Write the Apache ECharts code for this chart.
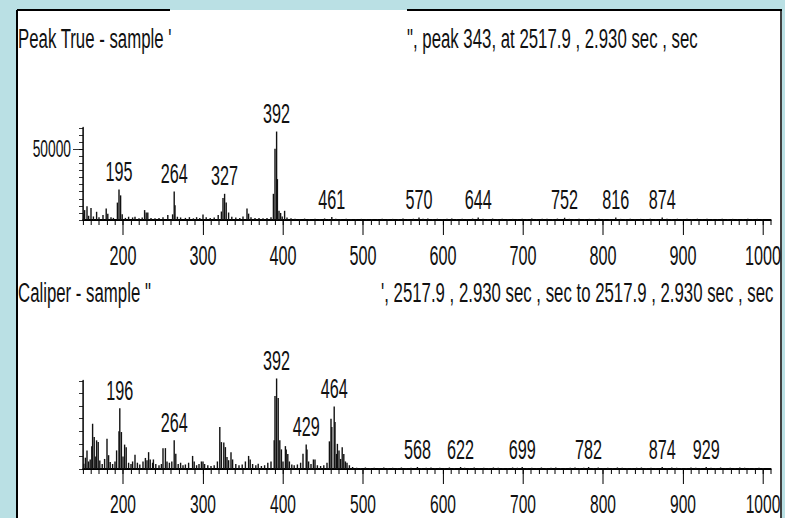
<!DOCTYPE html>
<html>
<head>
<meta charset="utf-8">
<title>Peak True / Caliper</title>
<script src="https://cdn.jsdelivr.net/npm/echarts@6/dist/echarts.min.js"></script>
<style>
  html, body { margin: 0; padding: 0; overflow: hidden; background: #bae0e4; }
  #main { height: 518px; transform-origin: 0 0; }
</style>
</head>
<body>
<div id="main"></div>
<script>
// the original uses a very narrow font, so the chart is laid out wider
// and squeezed back horizontally with css (svg keeps it sharp)
var S = 0.6;
function X(v) { return v / S; }
var FONT = '"Liberation Sans", Arial, sans-serif';

// Peak True spectrum
var trueMz = [151, 152, 155, 157, 160, 163, 167, 170, 175, 179, 181, 185, 188, 193, 195, 197, 199,
  203, 207, 212, 215, 220, 224, 227, 229, 231, 235, 240, 245, 250, 256, 262, 264, 265, 268, 272,
  278, 283, 288, 292, 296, 300, 304, 309, 314, 319, 323, 325, 327, 329, 332, 336, 341, 346, 350,
  355, 357, 360, 365, 370, 375, 380, 385, 388, 390, 392, 393, 395, 397, 399, 402, 405, 410,
  415, 421, 427, 433, 440, 446, 452, 457, 461, 466, 472, 479, 485, 491, 498, 504, 511, 518, 524,
  531, 537, 544, 550, 556, 563, 570, 575, 581, 587, 593, 599, 605, 611, 617, 624, 630, 637, 644,
  650, 656, 662, 668, 674, 681, 687, 693, 699, 705, 711, 717, 724, 730, 737, 743, 752, 758, 764,
  770, 777, 783, 789, 795, 801, 808, 816, 822, 828, 834, 840, 847, 853, 859, 866, 874, 880, 886,
  893, 899, 905, 911, 918, 924, 930, 937, 943, 949, 956, 962, 968, 975, 981, 987, 993, 999];
var trueInt = [4000, 7000, 9700, 3000, 8500, 2500, 5800, 2000, 3500, 8100, 4500, 2000, 1500, 12300, 21500, 17400, 4000,
  1500, 2300, 1800, 2300, 1200, 1800, 7000, 5300, 5300, 1500, 1200, 1500, 2000, 3500, 4000, 20100, 10400, 2300, 1800,
  1500, 2000, 1200, 2000, 1500, 3900, 2000, 1500, 1800, 3500, 6000, 15500, 18500, 12300, 5300, 2300, 1800, 1500, 2500,
  8100, 4500, 2000, 1500, 1500, 1200, 1500, 2000, 18500, 50300, 62500, 28900, 6500, 5000, 2500, 6500, 1800, 1200,
  800, 600, 1000, 700, 900, 600, 1100, 700, 2100, 800, 600, 900, 700, 500, 800, 600, 700, 500, 900,
  600, 800, 700, 1000, 600, 900, 1800, 800, 1100, 700, 900, 600, 800, 1000, 700, 900, 600, 1000, 1800,
  800, 700, 1000, 600, 900, 700, 800, 600, 900, 700, 1000, 600, 800, 900, 700, 1000, 1600, 800, 600,
  900, 700, 800, 600, 900, 700, 600, 1700, 800, 700, 900, 600, 800, 700, 900, 600, 1700, 800, 700,
  900, 600, 800, 700, 900, 600, 800, 700, 600, 900, 700, 800, 600, 700, 900, 600, 800, 700];
var trueLabels = [195, 264, 327, 392, 461, 570, 644, 752, 816, 874];

// Caliper spectrum
var calMz = [151, 153, 155, 157, 159, 161, 162, 164, 166, 167, 169, 171, 174, 177, 180, 182, 184, 187,
  190, 192, 195, 196, 198, 200, 202, 204, 207, 210, 212, 215, 218, 221, 225, 228, 230, 232, 234, 237,
  238, 241, 245, 248, 250, 253, 255, 258, 261, 264, 266, 269, 272, 275, 278, 282, 287, 289, 292, 295,
  298, 300, 302, 306, 310, 314, 318, 321, 323, 326, 328, 330, 332, 335, 337, 341, 345, 349, 353, 357,
  359, 362, 366, 369, 373, 377, 381, 385, 389, 390, 392, 394, 396, 398, 400, 403, 404, 406, 408, 411,
  414, 418, 422, 425, 429, 430, 432, 435, 438, 440, 443, 447, 451, 455, 458, 460, 461, 464, 465, 467,
  468, 470, 472, 474, 476, 478, 480, 483, 487,
  492, 497, 503, 509, 514, 520, 526, 531, 537, 543, 548, 554, 560, 568, 573, 579, 585, 590, 596, 602,
  608, 614, 622, 627, 633, 639, 645, 651, 657, 663, 669, 675, 681, 687, 693, 699, 705, 711, 717, 723,
  729, 735, 741, 747, 753, 759, 765, 771, 776, 782, 788, 794, 800, 806, 812, 818, 824, 830, 836, 842,
  848, 854, 860, 866, 874, 880, 886, 892, 898, 904, 910, 916, 922, 929, 935, 941, 947, 953, 959, 965,
  971, 977, 983, 989, 995, 1000];
var calInt = [2100, 4500, 7400, 3000, 3800, 9000, 18000, 12700, 5000, 11400, 10700, 3400, 2000, 4000, 12000, 5500, 2800, 2000,
  3000, 7400, 15000, 24200, 14700, 5000, 9700, 8700, 2500, 2000, 3000, 5700, 2500, 1800, 3000, 4400, 3500, 6700, 3800, 2500,
  3800, 2000, 1500, 2000, 8300, 8300, 3000, 2500, 3000, 11400, 6100, 2000, 2500, 1500, 1800, 2500, 5200, 3000, 1500, 2000,
  3000, 3000, 2000, 1500, 1200, 1500, 3000, 16700, 10700, 10500, 8700, 4800, 3500, 6700, 3800, 2000, 1500, 1800, 3000, 5200,
  3800, 2000, 1500, 2100, 1200, 1500, 2500, 3000, 11400, 29000, 36000, 28200, 11400, 7800, 3000, 9100, 7800, 6000, 3000, 1800,
  1500, 1800, 2500, 6100, 9700, 7800, 3000, 2000, 3800, 3800, 1500, 1200, 1500, 2500, 11000, 20000, 16700, 24900, 18700, 6000,
  10000, 7400, 4000, 8700, 6000, 3000, 2500, 1500, 800,
  500, 400, 600, 400, 500, 300, 600, 400, 500, 400, 600, 300, 500, 800, 400, 500, 600, 400, 500, 300,
  600, 400, 800, 500, 400, 600, 300, 500, 400, 600, 500, 400, 300, 600, 500, 800, 400, 500, 300, 600,
  400, 500, 600, 400, 300, 500, 600, 400, 500, 800, 400, 600, 300, 500, 400, 600, 500, 400, 300, 500,
  600, 400, 500, 300, 800, 400, 600, 500, 400, 300, 600, 500, 400, 800, 500, 400, 600, 300, 500, 400,
  600, 500, 300, 400, 500, 400];
var calLabels = [196, 264, 322, 392, 429, 464, 568, 622, 699, 782, 874, 929];

var xMajor = [200, 300, 400, 500, 600, 700, 800, 900, 1000];
var yLabelValue = 50000;

var dom = document.getElementById('main');
dom.style.width = (785 / S) + 'px';
dom.style.transform = 'scaleX(' + S + ')';
var myChart = echarts.init(dom, null, { renderer: 'svg' });

function peaks(mz, inten, labels) {
  return mz.map(function (m, i) {
    var item = { value: [m, inten[i]] };
    if (labels.indexOf(m) >= 0) {
      item.label = { show: true, formatter: String(m) };
    }
    return item;
  });
}

function minorX(gridIndex, margin, size) {
  return {
    type: 'value', gridIndex: gridIndex, min: 150, max: 1010, interval: 10,
    axisLine: { show: true, onZero: false, lineStyle: { color: '#000', width: 2 } },
    axisTick: { show: true, length: 5, lineStyle: { color: '#000', width: X(1) } },
    axisLabel: {
      show: true, margin: margin, color: '#111', fontSize: size, fontFamily: FONT,
      formatter: function (v) { return xMajor.indexOf(v) >= 0 ? String(v) : ''; }
    },
    splitLine: { show: false }
  };
}

function majorX(gridIndex) {
  return {
    type: 'value', gridIndex: gridIndex, min: 150, max: 1010, position: 'bottom',
    axisLine: { show: false },
    axisTick: { show: true, length: 15, customValues: xMajor, lineStyle: { color: '#000', width: X(1) } },
    axisLabel: { show: false },
    splitLine: { show: false }
  };
}

function spectrum(xi, data) {
  return {
    type: 'bar', xAxisIndex: xi, yAxisIndex: xi === 0 ? 0 : 2,
    data: data, barWidth: X(1.4), clip: false, silent: true,
    itemStyle: { color: '#111' },
    label: { show: false, position: 'top', distance: 4, color: '#111', fontSize: 27, fontFamily: FONT }
  };
}

option = {
  backgroundColor: '#bae0e4',
  animation: false,
  grid: [
    { left: X(83), top: 128, width: X(688), height: 92, outerBoundsMode: 'none' },
    { left: X(83), top: 381, width: X(688), height: 88, outerBoundsMode: 'none' }
  ],
  xAxis: [minorX(0, 22, 27), majorX(0), minorX(1, 22, 26), majorX(1)],
  yAxis: [
    {
      type: 'value', gridIndex: 0, min: 0, max: 65000, interval: 5000,
      axisLine: { show: true, lineStyle: { color: '#000', width: X(1.5) } },
      axisTick: { show: true, length: X(4), lineStyle: { color: '#000', width: 1 } },
      axisLabel: {
        show: true, margin: X(12), color: '#111', fontSize: 23, fontFamily: FONT,
        formatter: function (v) { return v === yLabelValue ? String(v) : ''; }
      },
      splitLine: { show: false }
    },
    {
      type: 'value', gridIndex: 0, min: 0, max: 65000, position: 'left',
      axisLine: { show: false },
      axisTick: { show: true, length: X(10), customValues: [yLabelValue], lineStyle: { color: '#000', width: 1 } },
      axisLabel: { show: false },
      splitLine: { show: false }
    },
    {
      type: 'value', gridIndex: 1, min: 0, max: 35000, interval: 5000,
      axisLine: { show: true, lineStyle: { color: '#000', width: X(1.5) } },
      axisTick: { show: true, length: X(4), lineStyle: { color: '#000', width: 1 } },
      axisLabel: { show: false },
      splitLine: { show: false }
    }
  ],
  graphic: [
    { type: 'rect', z: -100, shape: { x: X(17), y: 10, width: X(765), height: 510 }, style: { fill: '#fff' } },
    { type: 'line', shape: { x1: X(17), y1: 10, x2: X(17), y2: 518 }, style: { stroke: '#000', lineWidth: X(2) } },
    { type: 'line', shape: { x1: X(17), y1: 10, x2: X(170), y2: 10 }, style: { stroke: '#000', lineWidth: 2 } },
    { type: 'line', shape: { x1: X(407), y1: 10, x2: X(782), y2: 10 }, style: { stroke: '#000', lineWidth: 2 } },
    { type: 'line', shape: { x1: X(781), y1: 10, x2: X(781), y2: 518 }, style: { stroke: '#000', lineWidth: X(1.5) } },
    { type: 'text', x: X(18), y: 38, style: { text: "Peak True - sample '", fill: '#111', font: '28px ' + FONT, verticalAlign: 'middle', textVerticalAlign: 'middle' } },
    { type: 'text', x: X(407), y: 38, style: { text: '", peak 343, at 2517.9 , 2.930 sec , sec', fill: '#111', font: '28px ' + FONT, verticalAlign: 'middle', textVerticalAlign: 'middle' } },
    { type: 'text', x: X(18), y: 292, style: { text: 'Caliper - sample "', fill: '#111', font: '28px ' + FONT, verticalAlign: 'middle', textVerticalAlign: 'middle' } },
    { type: 'text', x: X(381), y: 292, style: { text: "', 2517.9 , 2.930 sec , sec to 2517.9 , 2.930 sec , sec", fill: '#111', font: '28px ' + FONT, verticalAlign: 'middle', textVerticalAlign: 'middle' } }
  ],
  series: [
    spectrum(0, peaks(trueMz, trueInt, trueLabels)),
    spectrum(2, peaks(calMz, calInt, calLabels))
  ]
};
myChart.setOption(option);
</script>
</body>
</html>
